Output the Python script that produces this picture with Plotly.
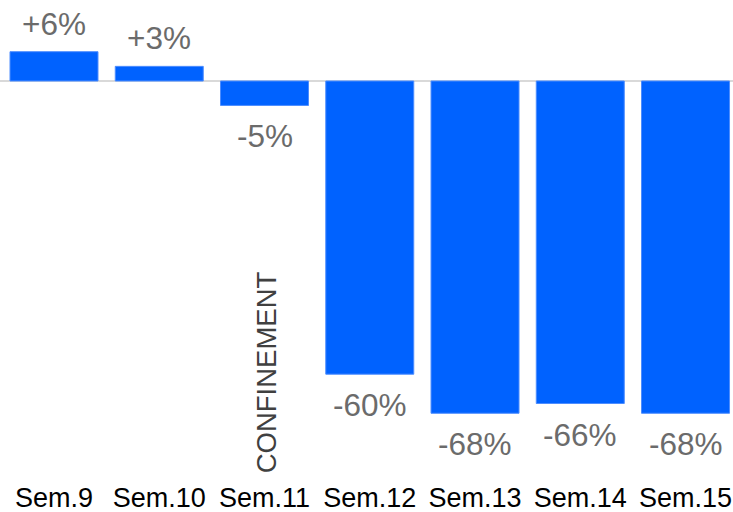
import plotly.graph_objects as go

# Weekly change versus the same week of the previous year
weeks = ["Sem.9", "Sem.10", "Sem.11", "Sem.12", "Sem.13", "Sem.14", "Sem.15"]
changes = [6, 3, -5, -60, -68, -66, -68]
value_labels = ["+6%", "+3%", "-5%", "-60%", "-68%", "-66%", "-68%"]

BLUE = "#0062FF"
LABEL_GREY = "#6b6b6b"
FONT = "Liberation Sans, Arial, sans-serif"

fig = go.Figure(
    go.Bar(
        x=weeks,
        y=changes,
        marker=dict(color=BLUE, line=dict(color="#4d8dff", width=1)),
        width=0.836,
        hoverinfo="skip",
    )
)

# Value labels: above positive bars, below negative ones
for wk, val, txt in zip(weeks, changes, value_labels):
    fig.add_annotation(
        x=wk,
        y=val,
        text=txt,
        showarrow=False,
        xanchor="center",
        yanchor="bottom" if val >= 0 else "top",
        yshift=8 if val >= 0 else -11,
        font=dict(family=FONT, size=31.5, color=LABEL_GREY),
    )

# Lockdown marker
fig.add_annotation(
    x=2.02,
    y=-59.7,
    xref="x",
    yref="y",
    text="CONFINEMENT",
    textangle=-90,
    showarrow=False,
    font=dict(family=FONT, size=27.5, color="#404040"),
)

fig.update_layout(
    width=733,
    height=512,
    margin=dict(l=0, r=0, t=0, b=33, autoexpand=False),
    paper_bgcolor="white",
    plot_bgcolor="white",
    showlegend=False,
    xaxis=dict(
        type="category",
        range=[-0.513, 6.451],
        automargin=False,
        showgrid=False,
        showline=False,
        ticks="",
        tickfont=dict(family=FONT, size=27, color="#000000"),
    ),
    yaxis=dict(
        range=[-81.45, 16.58],
        automargin=False,
        showgrid=False,
        showticklabels=False,
        zeroline=True,
        zerolinecolor="#d9d9d9",
        zerolinewidth=2,
    ),
)

fig.write_html("out.html")
